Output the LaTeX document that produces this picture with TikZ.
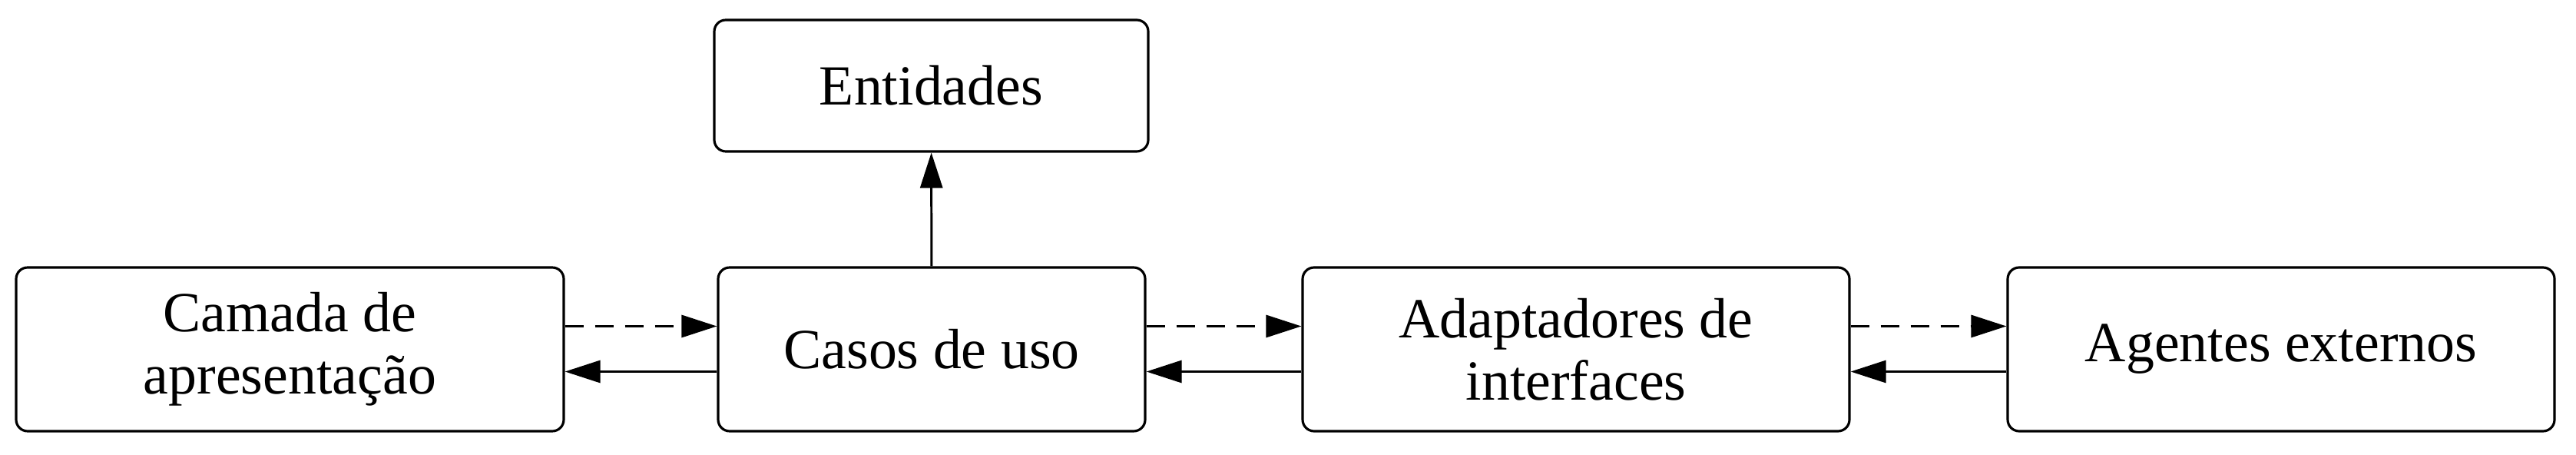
\documentclass[tikz,border=0pt]{standalone}
\usepackage{fontspec}
\setmainfont{Liberation Serif}
\usetikzlibrary{arrows.meta}
\tikzset{
  bloco/.style={draw, rounded corners=1.5mm, line width=0.9pt, align=center,
    minimum height=2.13cm, font=\fontsize{21}{23}\selectfont},
  seta/.style={-{Triangle[length=4.6mm,width=2.9mm]}, line width=0.85pt},
  tracejada/.style={seta, dash pattern=on 2.4mm off 1.5mm}
}
\begin{document}
\begin{tikzpicture}
\useasboundingbox (0,0) rectangle (33.54,5.92);
\node[bloco, minimum width=7.13cm] (camada) at (3.775,1.375) {Camada de\\apresentação};
\node[bloco, minimum width=5.56cm] (casos) at (12.13,1.375) {Casos de uso};
\node[bloco, minimum width=7.12cm] (adapt) at (20.52,1.375) {Adaptadores de\\interfaces};
\node[bloco, minimum width=7.12cm] (agentes) at (29.70,1.375) {Agentes externos};
\node[bloco, minimum width=5.65cm, minimum height=1.71cm] (entidades) at (12.125,4.805) {Entidades};
\draw[seta] (casos) -- (entidades);
\draw[tracejada] ([yshift=3mm]camada.east) -- ([yshift=3mm]casos.west);
\draw[seta] ([yshift=-2.9mm]casos.west) -- ([yshift=-2.9mm]camada.east);
\draw[tracejada] ([yshift=3mm]casos.east) -- ([yshift=3mm]adapt.west);
\draw[seta] ([yshift=-2.9mm]adapt.west) -- ([yshift=-2.9mm]casos.east);
\draw[tracejada] ([yshift=3mm]adapt.east) -- ([yshift=3mm]agentes.west);
\draw[seta] ([yshift=-2.9mm]agentes.west) -- ([yshift=-2.9mm]adapt.east);
\end{tikzpicture}
\end{document}
